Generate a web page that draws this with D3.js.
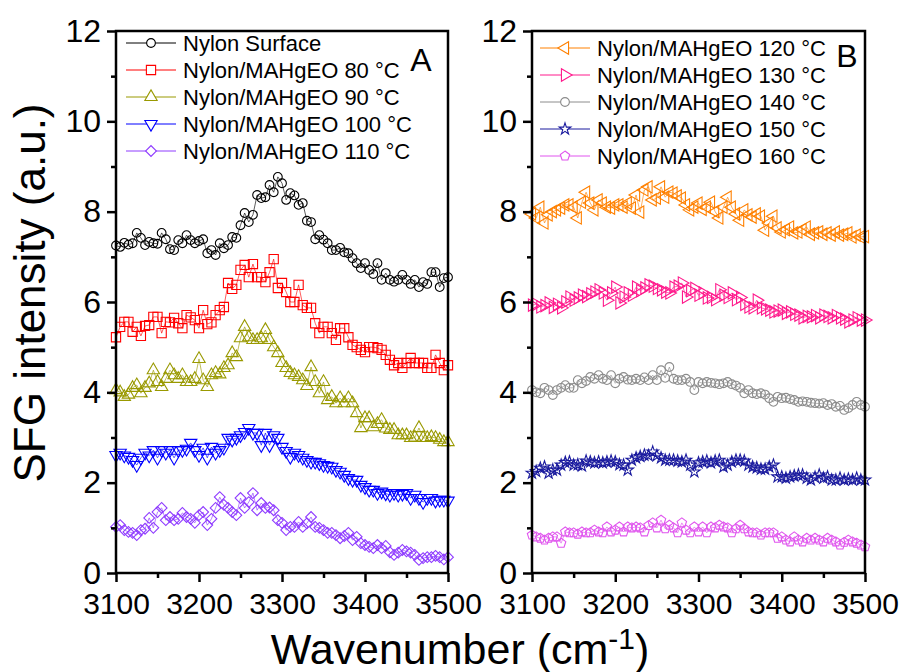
<!DOCTYPE html>
<html><head><meta charset="utf-8">
<script src="https://cdn.jsdelivr.net/npm/d3@7"></script>
<style>
body{margin:0;background:#fff}
svg{display:block}
text{font-family:"Liberation Sans",Arial,Helvetica,sans-serif;fill:#000}
</style>
</head><body>
<svg id="chart" width="901" height="672"></svg>
<script>
// sampling grid (cm-1)
const wavenumbers = d3.range(3100, 3501, 5);

// Panel A series
const nylonSurface = [7.25,7.22,7.31,7.27,7.30,7.53,7.42,7.26,7.33,7.30,
 7.29,7.53,7.39,7.17,7.15,7.37,7.30,7.48,7.37,7.30,
 7.35,7.39,7.08,7.15,7.04,7.30,7.19,7.26,7.44,7.42,
 7.70,7.97,7.77,7.93,8.37,8.30,8.32,8.59,8.43,8.77,
 8.63,8.26,8.41,8.36,8.15,8.19,7.80,7.77,7.39,7.48,
 7.38,7.30,7.15,7.15,7.20,7.10,7.08,6.97,6.86,6.75,
 6.86,6.71,6.62,6.86,6.49,6.64,6.49,6.45,6.49,6.60,
 6.49,6.40,6.49,6.33,6.44,6.40,6.66,6.66,6.33,6.53,6.55];
const mahgeo80 = [5.22,5.45,5.56,5.56,5.34,5.45,5.25,5.47,5.49,5.67,
 5.67,5.31,5.56,5.55,5.65,5.53,5.42,5.71,5.66,5.60,
 5.42,5.82,5.51,5.55,5.71,5.82,5.89,6.42,6.29,6.38,
 6.71,6.82,6.55,6.84,6.55,6.55,6.44,6.66,6.95,6.31,
 6.42,6.22,6.00,6.00,6.38,5.93,5.87,5.87,5.53,5.31,
 5.45,5.45,5.31,5.16,5.42,5.42,5.22,5.05,5.00,4.94,
 4.89,5.00,5.00,4.98,4.94,4.83,4.72,4.60,4.65,4.54,
 4.65,4.76,4.65,4.65,4.65,4.54,4.54,4.83,4.65,4.49,4.60];
const mahgeo90 = [4.05,4.00,3.90,3.95,4.10,4.16,3.98,4.10,4.20,4.49,
 4.23,4.12,4.30,4.49,4.38,4.30,4.38,4.23,4.23,4.30,
 4.74,4.27,4.12,4.38,4.43,4.40,4.54,4.60,4.87,4.78,
 5.20,5.45,5.22,5.16,5.16,5.20,5.38,5.16,5.00,4.87,
 4.65,4.54,4.43,4.38,4.34,4.27,4.14,4.56,4.23,3.98,
 4.23,3.83,3.90,3.76,3.87,3.76,3.87,3.76,3.54,3.21,
 3.43,3.43,3.23,3.30,3.39,3.20,3.17,3.17,3.05,3.05,
 3.05,2.99,3.00,3.21,2.99,2.99,3.01,2.99,2.95,2.90,2.90];
const mahgeo100 = [2.61,2.66,2.60,2.57,2.50,2.39,2.55,2.66,2.60,2.72,
 2.55,2.72,2.66,2.72,2.55,2.72,2.72,2.75,2.88,2.72,
 2.61,2.77,2.55,2.79,2.66,2.72,2.77,2.99,2.95,2.99,
 3.05,3.12,3.21,3.10,3.10,2.83,3.10,2.83,3.05,2.99,
 2.79,2.70,2.57,2.66,2.61,2.55,2.50,2.46,2.46,2.43,
 2.39,2.37,2.35,2.28,2.24,2.17,2.10,2.06,2.06,1.95,
 1.90,1.84,1.84,1.77,1.80,1.76,1.73,1.77,1.73,1.75,
 1.77,1.66,1.73,1.66,1.57,1.66,1.66,1.60,1.62,1.62,1.60];
const mahgeo110 = [1.02,1.06,0.95,0.91,0.89,0.84,0.95,0.98,1.22,1.00,
 1.35,1.44,1.17,1.24,1.17,1.20,1.33,1.24,1.20,1.11,
 1.28,1.35,1.06,1.20,1.44,1.68,1.51,1.44,1.35,1.28,
 1.66,1.44,1.57,1.77,1.39,1.55,1.44,1.45,1.39,1.17,
 1.11,0.95,1.02,1.02,1.13,1.02,1.10,1.24,1.02,1.00,
 0.95,0.89,0.89,0.84,0.77,0.82,0.89,0.73,0.80,0.66,
 0.62,0.58,0.55,0.62,0.55,0.60,0.46,0.40,0.45,0.51,
 0.48,0.45,0.40,0.29,0.33,0.35,0.35,0.38,0.35,0.30,0.35];

// Panel B series
const mahgeo120 = [7.95,7.86,8.10,7.75,7.93,8.00,8.04,8.08,8.15,8.15,
 8.10,7.86,8.21,8.43,8.19,8.04,8.26,8.19,8.10,8.08,
 8.15,8.15,8.10,8.19,8.08,8.37,7.99,8.48,8.55,8.26,
 8.30,8.55,8.32,8.43,8.41,8.35,8.30,8.15,8.04,8.10,
 8.19,8.05,8.10,8.21,8.00,7.86,8.10,8.32,8.10,7.95,
 7.81,8.04,7.93,7.88,7.95,7.90,7.59,7.75,7.90,7.64,
 7.55,7.60,7.66,7.53,7.55,7.60,7.66,7.50,7.53,7.55,
 7.50,7.53,7.48,7.55,7.48,7.50,7.53,7.44,7.48,7.44,7.45];
const mahgeo130 = [5.93,5.95,5.89,5.92,5.98,5.88,5.95,5.87,6.00,6.11,
 6.04,6.09,6.15,6.12,6.18,6.22,6.27,6.20,6.04,6.20,
 6.33,5.98,6.11,6.20,6.15,6.33,6.25,6.31,6.38,6.35,
 6.30,6.27,6.22,6.20,6.33,6.35,6.42,6.11,6.25,6.30,
 6.15,6.20,6.09,6.10,6.05,6.27,6.15,6.10,6.20,6.05,
 6.10,5.95,5.89,5.87,6.04,5.87,5.85,5.82,5.78,5.80,
 5.82,5.75,5.78,5.73,5.71,5.65,5.68,5.67,5.70,5.65,
 5.71,5.68,5.65,5.70,5.65,5.62,5.56,5.60,5.65,5.60,5.60];
const mahgeo140 = [4.05,4.00,3.98,4.10,4.05,3.94,4.05,4.10,4.16,4.10,
 4.10,4.27,4.20,4.25,4.34,4.30,4.38,4.30,4.27,4.38,
 4.20,4.30,4.34,4.28,4.27,4.30,4.27,4.33,4.27,4.38,
 4.27,4.49,4.32,4.56,4.30,4.27,4.27,4.30,4.23,4.05,
 4.23,4.20,4.23,4.21,4.20,4.18,4.20,4.23,4.18,4.15,
 4.10,3.98,4.05,3.98,3.96,3.98,3.95,3.87,3.79,3.90,
 3.87,3.88,3.85,3.83,3.79,3.80,3.79,3.77,3.76,3.75,
 3.76,3.72,3.74,3.68,3.70,3.61,3.65,3.72,3.79,3.72,3.68];
const mahgeo150 = [2.21,2.25,2.32,2.35,2.21,2.28,2.28,2.39,2.45,2.46,
 2.39,2.40,2.37,2.48,2.46,2.44,2.46,2.44,2.46,2.48,
 2.46,2.40,2.39,2.28,2.50,2.55,2.58,2.61,2.60,2.68,
 2.60,2.55,2.50,2.50,2.50,2.48,2.46,2.50,2.39,2.24,
 2.44,2.46,2.48,2.44,2.48,2.50,2.35,2.39,2.46,2.50,
 2.50,2.48,2.39,2.35,2.33,2.30,2.30,2.35,2.39,2.13,
 2.13,2.10,2.13,2.15,2.17,2.17,2.10,2.06,2.12,2.17,
 2.10,2.13,2.06,2.06,2.10,2.06,2.08,2.06,2.10,2.06,2.06];
const mahgeo160 = [0.84,0.80,0.77,0.73,0.77,0.80,0.80,0.66,0.91,0.89,
 0.89,0.86,0.91,0.89,0.89,0.95,0.91,0.89,1.02,0.91,
 0.95,1.02,0.91,1.02,1.00,1.02,1.00,0.91,1.05,1.11,
 1.00,1.17,0.98,1.06,1.00,0.89,1.11,0.95,0.89,1.02,
 0.91,1.02,0.89,1.02,1.00,1.06,1.02,1.00,0.89,0.98,
 1.06,0.98,0.91,0.89,0.89,0.84,0.89,0.89,0.89,0.77,
 0.80,0.73,0.69,0.80,0.73,0.69,0.77,0.73,0.77,0.73,
 0.69,0.77,0.73,0.69,0.62,0.68,0.73,0.69,0.66,0.62,0.58];

const labelsA = ["Nylon Surface","Nylon/MAHgEO 80 °C","Nylon/MAHgEO 90 °C","Nylon/MAHgEO 100 °C","Nylon/MAHgEO 110 °C"];
const labelsB = ["Nylon/MAHgEO 120 °C","Nylon/MAHgEO 130 °C","Nylon/MAHgEO 140 °C","Nylon/MAHgEO 150 °C","Nylon/MAHgEO 160 °C"];
const valuesA = [nylonSurface, mahgeo80, mahgeo90, mahgeo100, mahgeo110];
const valuesB = [mahgeo120, mahgeo130, mahgeo140, mahgeo150, mahgeo160];
const colorsA = ["#000000","#ff0000","#999900","#0000ff","#8f3cff"];
const colorsB = ["#ff8000","#ff1a8c","#8c8c8c","#1a1a9e","#e055ee"];
const shapesA = ["circle","square","triUp","triDown","diamond"];
const shapesB = ["triLeft","triRight","circle","star","pentagon"];

const xTicks = [3100,3200,3300,3400,3500];
const xMinorTicks = [3150,3250,3350,3450];
const yTicks = [0,2,4,6,8,10,12];
const yMinorTicks = [1,3,5,7,9,11];

// ---------- drawing ----------
const svg = d3.select("#chart");
const FONT = '"Liberation Sans",Arial,Helvetica,sans-serif';

const pentagonType = {draw(ctx,size){
  const r = Math.sqrt(size/2.378);
  for(let i=0;i<5;i++){
    const a = -Math.PI/2 + i*2*Math.PI/5;
    const px = r*Math.cos(a), py = r*Math.sin(a);
    if(i===0) ctx.moveTo(px,py); else ctx.lineTo(px,py);
  }
  ctx.closePath();
}};
const shapeDefs = {
  circle:{type:d3.symbolCircle,size:60,rot:0},
  square:{type:d3.symbolSquare,size:85,rot:0},
  triUp:{type:d3.symbolTriangle,size:66,rot:0},
  triDown:{type:d3.symbolTriangle,size:66,rot:180},
  diamond:{type:d3.symbolSquare,size:58,rot:45},
  triLeft:{type:d3.symbolTriangle,size:66,rot:-90},
  triRight:{type:d3.symbolTriangle,size:66,rot:90},
  star:{type:d3.symbolStar,size:42,rot:0},
  pentagon:{type:pentagonType,size:58,rot:0}
};

const yTop = 31, yBottom = 573;
const y = d3.scaleLinear().domain([0,12]).range([yBottom,yTop]);

const panels = [
  {x0:116, x1:448, values:valuesA, labels:labelsA, colors:colorsA, shapes:shapesA,
   legX:126, legY:43, tag:"A", tagX:421, tagY:71},
  {x0:532, x1:865, values:valuesB, labels:labelsB, colors:colorsB, shapes:shapesB,
   legX:540, legY:48, tag:"B", tagX:847, tagY:67}
];

panels.forEach(p=>{
  const x = d3.scaleLinear().domain([3100,3500]).range([p.x0,p.x1]);
  const g = svg.append("g");

  // series
  p.values.forEach((vals,si)=>{
    const col = p.colors[si];
    const sd = shapeDefs[p.shapes[si]];
    const pts = vals.map((v,i)=>[wavenumbers[i], v]);
    g.append("path").datum(pts)
      .attr("fill","none").attr("stroke",col).attr("stroke-width",0.8).attr("stroke-opacity",0.8)
      .attr("d", d3.line().x(d=>x(d[0])).y(d=>y(d[1])));
    const sym = d3.symbol().type(sd.type).size(sd.size);
    g.selectAll(null).data(pts).join("path")
      .attr("d", sym)
      .attr("transform", d=>`translate(${x(d[0])},${y(d[1])}) rotate(${sd.rot})`)
      .attr("fill","none").attr("stroke",col).attr("stroke-width",1.1);
  });

  // axes
  const ax = svg.append("g").attr("transform",`translate(0,${yBottom})`)
    .call(d3.axisBottom(x).tickValues(xTicks).tickSize(9).tickSizeOuter(0).tickPadding(11).tickFormat(d3.format("d")));
  const axm = svg.append("g").attr("transform",`translate(0,${yBottom})`)
    .call(d3.axisBottom(x).tickValues(xMinorTicks).tickSize(5).tickSizeOuter(0).tickFormat(""));
  const ay = svg.append("g").attr("transform",`translate(${p.x0},0)`)
    .call(d3.axisLeft(y).tickValues(yTicks).tickSize(9).tickSizeOuter(0).tickPadding(6));
  const aym = svg.append("g").attr("transform",`translate(${p.x0},0)`)
    .call(d3.axisLeft(y).tickValues(yMinorTicks).tickSize(5).tickSizeOuter(0).tickFormat(""));
  [ax,axm,ay,aym].forEach(a=>{
    a.select(".domain").remove();
    a.selectAll(".tick line").attr("stroke","#000").attr("stroke-width",2.5);
    a.selectAll(".tick text").attr("font-family",FONT).attr("font-size",30).attr("fill","#000");
  });
  ay.selectAll(".tick text").attr("font-size",32);

  // frame
  svg.append("rect").attr("x",p.x0).attr("y",yTop).attr("width",p.x1-p.x0).attr("height",yBottom-yTop)
    .attr("fill","none").attr("stroke","#000").attr("stroke-width",2.5);

  // legend
  const lg = svg.append("g");
  p.labels.forEach((lab,i)=>{
    const cy = p.legY + i*27;
    const col = p.colors[i];
    const sd = shapeDefs[p.shapes[i]];
    lg.append("line").attr("x1",p.legX).attr("x2",p.legX+50).attr("y1",cy).attr("y2",cy)
      .attr("stroke",col).attr("stroke-width",1);
    lg.append("path").attr("d", d3.symbol().type(sd.type).size(sd.size)())
      .attr("transform",`translate(${p.legX+25},${cy}) rotate(${sd.rot})`)
      .attr("fill","#fff").attr("stroke",col).attr("stroke-width",1.1);
    lg.append("text").attr("x",p.legX+57).attr("y",cy).attr("dy","0.36em")
      .attr("font-size",22).text(lab);
  });

  svg.append("text").attr("x",p.tagX).attr("y",p.tagY).attr("text-anchor","middle")
    .attr("font-size",32).text(p.tag);
});

// axis titles
svg.append("text").attr("transform","translate(45,293) rotate(-90)")
  .attr("text-anchor","middle").attr("font-size",44).text("SFG intensity (a.u.)");
const xt = svg.append("text").attr("x",460).attr("y",664).attr("text-anchor","middle").attr("font-size",43);
xt.append("tspan").text("Wavenumber (cm");
xt.append("tspan").attr("dy",-15).attr("font-size",30).text("-1");
xt.append("tspan").attr("dy",15).text(")");
</script>
</body></html>
